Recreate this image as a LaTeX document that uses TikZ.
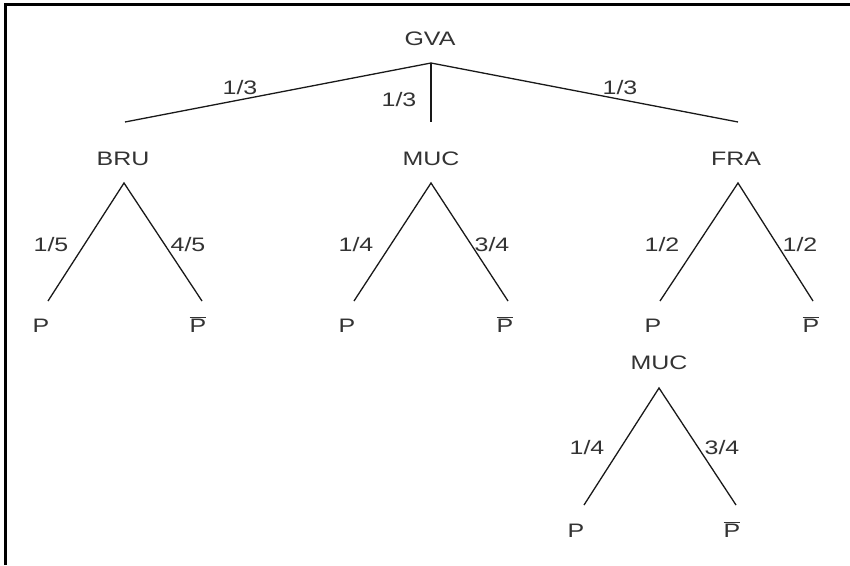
\documentclass[tikz,border=0pt]{standalone}
\usepackage{fontspec}
\setmainfont[FakeStretch=1.28]{Liberation Sans}
\newcommand{\Pbar}{$\overline{\hbox{P}}$}
\begin{document}
\begin{tikzpicture}[x=1pt,y=-1pt,
  edge/.style={line width=1.3pt, draw=black!90},
  lbl/.style={font=\fontsize{19.5}{23}\selectfont, text=black!80, inner sep=0pt, anchor=base}]
\useasboundingbox (0,0) rectangle (850,565);
\draw[line width=3pt] (5.5,565) -- (5.5,4.5) -- (850,4.5);
% top level
\node[lbl] (gva) at (430,45.5) {GVA};
\coordinate (root) at (431,63);
\coordinate (bt) at (125,122);
\coordinate (mt) at (431,122);
\coordinate (ft) at (738,122);
\draw[edge] (root) -- (bt);
\draw[edge] (root) -- (mt);
\draw[edge] (root) -- (ft);
\node[lbl] (p1) at (240,94.5) {1/3};
\node[lbl] (p2) at (399,106.5) {1/3};
\node[lbl] (p3) at (620,94.5) {1/3};
\node[lbl] (bru) at (123,165.5) {BRU};
\node[lbl] (muc) at (431,165.5) {MUC};
\node[lbl] (fra) at (736,165.5) {FRA};
% BRU subtree
\coordinate (ba) at (124,183);
\coordinate (bl) at (48,301);
\coordinate (br) at (202,301);
\draw[edge] (bl) -- (ba) -- (br);
\node[lbl] (bq1) at (51,251) {1/5};
\node[lbl] (bq2) at (188,251) {4/5};
\node[lbl] (bp) at (41,332.5) {P};
\node[lbl] (bpb) at (198,332.5) {\Pbar};
% MUC subtree
\coordinate (ma) at (431,183);
\coordinate (ml) at (354,301);
\coordinate (mr) at (508,301);
\draw[edge] (ml) -- (ma) -- (mr);
\node[lbl] (mq1) at (356,251) {1/4};
\node[lbl] (mq2) at (492,251) {3/4};
\node[lbl] (mp) at (347,332.5) {P};
\node[lbl] (mpb) at (505,332.5) {\Pbar};
% FRA subtree
\coordinate (fa) at (738,183);
\coordinate (fl) at (660,301);
\coordinate (fr) at (813,301);
\draw[edge] (fl) -- (fa) -- (fr);
\node[lbl] (fq1) at (662,251) {1/2};
\node[lbl] (fq2) at (800,251) {1/2};
\node[lbl] (fp) at (653,332.5) {P};
\node[lbl] (fpb) at (811,332.5) {\Pbar};
% second MUC subtree
\node[lbl] (muc2) at (659,369.5) {MUC};
\coordinate (sa) at (659,388);
\coordinate (sl) at (584,505);
\coordinate (sr) at (736,505);
\draw[edge] (sl) -- (sa) -- (sr);
\node[lbl] (sq1) at (587,454.5) {1/4};
\node[lbl] (sq2) at (722,454.5) {3/4};
\node[lbl] (sp) at (576,537.5) {P};
\node[lbl] (spb) at (732,537.5) {\Pbar};
\end{tikzpicture}
\end{document}
